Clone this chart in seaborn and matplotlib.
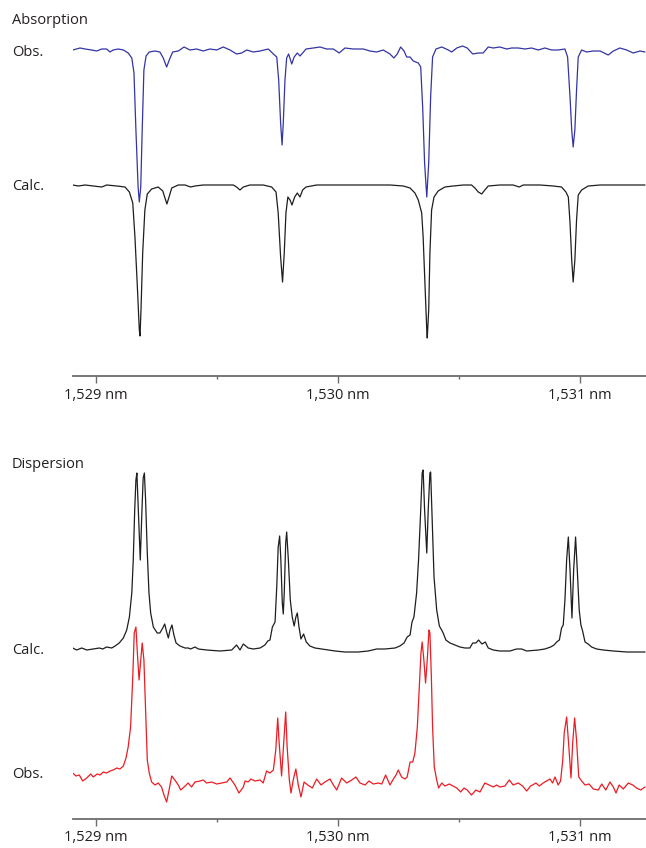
import numpy as np
import pandas as pd
import matplotlib
matplotlib.use("Agg")
import matplotlib.pyplot as plt
import seaborn as sns

# ---------------- data ----------------
# wavelength in nm, signal in arbitrary units (baseline ~ 0)
abs_obs_wl = [1528.904, 1528.934, 1528.955, 1528.982, 1529.003, 1529.024, 1529.044, 1529.058, 1529.071,
              1529.092, 1529.113, 1529.133, 1529.148, 1529.157, 1529.165, 1529.174, 1529.179, 1529.185,
              1529.191, 1529.198, 1529.207, 1529.220, 1529.244, 1529.264, 1529.278, 1529.292, 1529.306,
              1529.317, 1529.340, 1529.364, 1529.388, 1529.416, 1529.443, 1529.471, 1529.499, 1529.526,
              1529.554, 1529.581, 1529.602, 1529.623, 1529.650, 1529.678, 1529.712, 1529.733, 1529.747,
              1529.755, 1529.763, 1529.769, 1529.774, 1529.781, 1529.788, 1529.796, 1529.809, 1529.819,
              1529.832, 1529.843, 1529.854, 1529.868, 1529.898, 1529.926, 1529.953, 1529.981, 1530.005,
              1530.029, 1530.063, 1530.105, 1530.132, 1530.160, 1530.187, 1530.215, 1530.231, 1530.245,
              1530.259, 1530.273, 1530.284, 1530.298, 1530.311, 1530.332, 1530.342, 1530.350, 1530.358,
              1530.367, 1530.375, 1530.383, 1530.391, 1530.405, 1530.429, 1530.456, 1530.470, 1530.491,
              1530.515, 1530.534, 1530.557, 1530.580, 1530.600, 1530.621, 1530.642, 1530.669, 1530.697,
              1530.718, 1530.745, 1530.773, 1530.800, 1530.828, 1530.855, 1530.883, 1530.910, 1530.938,
              1530.949, 1530.959, 1530.966, 1530.972, 1530.979, 1530.986, 1530.993, 1531.007, 1531.028,
              1531.055, 1531.083, 1531.117, 1531.138, 1531.165, 1531.193, 1531.220, 1531.248, 1531.269]
abs_obs_val = [-0.01, 0.01, 0.00, -0.01, -0.02, 0.00, 0.00, -0.03, -0.01,
               0.00, -0.01, -0.04, -0.09, -0.24, -0.81, -1.38, -1.53, -1.38,
               -0.81, -0.21, -0.07, -0.03, -0.02, -0.03, -0.09, -0.18, -0.09,
               -0.03, -0.02, 0.02, -0.01, 0.00, -0.02, 0.00, -0.01, 0.02,
               -0.01, -0.05, -0.04, -0.01, -0.03, -0.02, 0.00, -0.05, -0.08,
               -0.31, -0.74, -0.96, -0.74, -0.31, -0.09, -0.05, -0.15, -0.08,
               -0.04, -0.07, -0.04, 0.00, 0.01, 0.02, 0.00, 0.00, -0.04,
               0.01, 0.00, 0.00, -0.02, -0.03, -0.01, -0.05, -0.09, -0.05,
               0.02, -0.02, -0.08, -0.08, -0.12, -0.14, -0.18, -0.58, -1.14,
               -1.48, -1.14, -0.48, -0.08, 0.00, 0.02, -0.01, -0.03, 0.01,
               0.03, 0.01, -0.05, -0.04, -0.04, 0.02, 0.01, 0.02, 0.00,
               0.01, 0.01, 0.00, 0.01, -0.01, 0.01, -0.01, -0.01, 0.00,
               -0.08, -0.48, -0.81, -0.98, -0.81, -0.41, -0.08, -0.01, -0.03,
               -0.02, -0.02, -0.06, -0.02, 0.01, -0.01, -0.04, -0.02, -0.03]

abs_calc_wl = [1528.904, 1528.927, 1528.955, 1528.989, 1529.024, 1529.044, 1529.086, 1529.120, 1529.138,
               1529.152, 1529.161, 1529.171, 1529.179, 1529.182, 1529.186, 1529.193, 1529.202, 1529.212,
               1529.230, 1529.257, 1529.276, 1529.285, 1529.293, 1529.302, 1529.313, 1529.340, 1529.368,
               1529.391, 1529.409, 1529.443, 1529.499, 1529.567, 1529.581, 1529.595, 1529.609, 1529.636,
               1529.678, 1529.691, 1529.726, 1529.744, 1529.753, 1529.763, 1529.771, 1529.778, 1529.785,
               1529.793, 1529.802, 1529.810, 1529.821, 1529.832, 1529.843, 1529.854, 1529.868, 1529.912,
               1529.967, 1530.050, 1530.132, 1530.215, 1530.270, 1530.298, 1530.318, 1530.332, 1530.346,
               1530.352, 1530.360, 1530.367, 1530.369, 1530.375, 1530.380, 1530.387, 1530.397, 1530.414,
               1530.442, 1530.476, 1530.518, 1530.552, 1530.566, 1530.580, 1530.594, 1530.607, 1530.621,
               1530.669, 1530.724, 1530.749, 1530.766, 1530.835, 1530.890, 1530.924, 1530.942, 1530.952,
               1530.959, 1530.966, 1530.972, 1530.979, 1530.986, 1530.993, 1531.007, 1531.034, 1531.083,
               1531.165, 1531.269]
abs_calc_val = [0.00, -0.01, 0.00, -0.01, -0.02, 0.00, -0.01, -0.02, -0.07,
                -0.18, -0.52, -1.02, -1.45, -1.51, -1.25, -0.68, -0.25, -0.09,
                -0.04, -0.02, -0.06, -0.13, -0.19, -0.12, -0.03, 0.00, 0.00,
                -0.02, -0.01, 0.00, 0.00, 0.00, -0.02, -0.05, -0.02, 0.00,
                0.00, 0.00, -0.02, -0.07, -0.28, -0.72, -0.97, -0.68, -0.28,
                -0.12, -0.15, -0.20, -0.12, -0.08, -0.12, -0.05, -0.02, 0.00,
                0.00, 0.00, 0.00, 0.00, -0.01, -0.03, -0.08, -0.15, -0.28,
                -0.52, -1.02, -1.45, -1.53, -1.25, -0.68, -0.25, -0.12, -0.06,
                -0.02, -0.01, 0.00, 0.00, -0.03, -0.07, -0.09, -0.05, -0.01,
                0.00, 0.00, -0.02, 0.00, 0.00, -0.01, -0.02, -0.07, -0.12,
                -0.38, -0.75, -0.97, -0.75, -0.35, -0.10, -0.05, -0.01, 0.00,
                0.00, 0.00]

disp_calc_wl = [1528.904, 1528.920, 1528.941, 1528.962, 1528.989, 1529.014, 1529.028, 1529.044, 1529.065,
                1529.079, 1529.096, 1529.113, 1529.127, 1529.138, 1529.148, 1529.154, 1529.160, 1529.165,
                1529.169, 1529.175, 1529.183, 1529.190, 1529.195, 1529.200, 1529.205, 1529.212, 1529.219,
                1529.226, 1529.237, 1529.253, 1529.264, 1529.276, 1529.284, 1529.292, 1529.299, 1529.306,
                1529.314, 1529.322, 1529.331, 1529.347, 1529.368, 1529.381, 1529.391, 1529.409, 1529.423,
                1529.457, 1529.512, 1529.561, 1529.581, 1529.595, 1529.609, 1529.629, 1529.650, 1529.678,
                1529.698, 1529.710, 1529.719, 1529.729, 1529.740, 1529.747, 1529.753, 1529.759, 1529.764,
                1529.770, 1529.774, 1529.778, 1529.784, 1529.788, 1529.795, 1529.803, 1529.811, 1529.819,
                1529.826, 1529.832, 1529.839, 1529.847, 1529.858, 1529.869, 1529.884, 1529.905, 1529.933,
                1529.960, 1529.988, 1530.029, 1530.084, 1530.125, 1530.160, 1530.194, 1530.236, 1530.256,
                1530.273, 1530.286, 1530.298, 1530.306, 1530.314, 1530.325, 1530.333, 1530.342, 1530.348,
                1530.352, 1530.358, 1530.367, 1530.373, 1530.380, 1530.383, 1530.388, 1530.397, 1530.408,
                1530.419, 1530.433, 1530.446, 1530.463, 1530.483, 1530.504, 1530.525, 1530.545, 1530.557,
                1530.570, 1530.581, 1530.595, 1530.609, 1530.621, 1530.642, 1530.669, 1530.711, 1530.738,
                1530.759, 1530.780, 1530.828, 1530.855, 1530.879, 1530.893, 1530.904, 1530.915, 1530.924,
                1530.931, 1530.938, 1530.945, 1530.952, 1530.959, 1530.967, 1530.974, 1530.982, 1530.989,
                1530.997, 1531.004, 1531.011, 1531.021, 1531.034, 1531.048, 1531.069, 1531.096, 1531.138,
                1531.193, 1531.269]
disp_calc_val = [0.02, 0.00, 0.02, 0.00, 0.01, 0.02, 0.01, 0.03, 0.02,
                 0.04, 0.07, 0.12, 0.20, 0.33, 0.57, 0.90, 1.40, 1.70,
                 1.77, 1.40, 0.90, 1.40, 1.72, 1.77, 1.50, 0.97, 0.57,
                 0.37, 0.23, 0.17, 0.17, 0.22, 0.26, 0.18, 0.12, 0.20,
                 0.25, 0.15, 0.07, 0.04, 0.02, 0.02, 0.01, 0.03, 0.01,
                 0.00, -0.01, 0.00, 0.05, 0.00, 0.06, 0.02, 0.01, 0.02,
                 0.05, 0.09, 0.10, 0.23, 0.28, 0.63, 1.03, 1.14, 0.90,
                 0.47, 0.36, 0.57, 1.07, 1.18, 0.90, 0.50, 0.33, 0.24,
                 0.33, 0.37, 0.23, 0.11, 0.16, 0.08, 0.04, 0.02, 0.01,
                 0.00, -0.01, -0.02, -0.02, -0.01, 0.01, 0.01, 0.02, 0.04,
                 0.07, 0.13, 0.15, 0.28, 0.33, 0.57, 0.90, 1.40, 1.77,
                 1.80, 1.40, 0.97, 1.40, 1.77, 1.78, 1.40, 0.73, 0.40,
                 0.24, 0.18, 0.10, 0.07, 0.05, 0.03, 0.02, 0.02, 0.07,
                 0.07, 0.10, 0.06, 0.08, 0.02, 0.00, -0.01, -0.01, 0.01,
                 0.01, -0.01, 0.00, 0.01, 0.03, 0.05, 0.08, 0.10, 0.22,
                 0.25, 0.50, 0.90, 1.13, 0.80, 0.32, 0.80, 1.13, 0.80,
                 0.40, 0.25, 0.19, 0.08, 0.06, 0.03, 0.01, 0.00, -0.01,
                 -0.02, -0.02]

disp_obs_wl = [1528.904, 1528.917, 1528.931, 1528.945, 1528.962, 1528.978, 1528.989, 1529.005, 1529.017,
               1529.030, 1529.044, 1529.058, 1529.071, 1529.086, 1529.099, 1529.113, 1529.124, 1529.133,
               1529.143, 1529.152, 1529.158, 1529.165, 1529.171, 1529.178, 1529.185, 1529.191, 1529.198,
               1529.205, 1529.212, 1529.220, 1529.230, 1529.244, 1529.257, 1529.271, 1529.281, 1529.292,
               1529.302, 1529.313, 1529.326, 1529.340, 1529.350, 1529.364, 1529.381, 1529.395, 1529.409,
               1529.430, 1529.443, 1529.457, 1529.478, 1529.499, 1529.519, 1529.540, 1529.554, 1529.574,
               1529.591, 1529.609, 1529.616, 1529.629, 1529.640, 1529.657, 1529.678, 1529.691, 1529.705,
               1529.719, 1529.733, 1529.743, 1529.751, 1529.757, 1529.767, 1529.776, 1529.784, 1529.790,
               1529.799, 1529.806, 1529.815, 1529.826, 1529.836, 1529.847, 1529.860, 1529.875, 1529.894,
               1529.912, 1529.930, 1529.946, 1529.967, 1529.981, 1529.995, 1530.015, 1530.036, 1530.057,
               1530.074, 1530.091, 1530.112, 1530.128, 1530.146, 1530.167, 1530.181, 1530.197, 1530.215,
               1530.229, 1530.240, 1530.249, 1530.263, 1530.277, 1530.286, 1530.298, 1530.309, 1530.318,
               1530.328, 1530.336, 1530.343, 1530.348, 1530.355, 1530.362, 1530.369, 1530.376, 1530.380,
               1530.386, 1530.391, 1530.398, 1530.408, 1530.416, 1530.429, 1530.442, 1530.460, 1530.476,
               1530.491, 1530.507, 1530.521, 1530.534, 1530.552, 1530.570, 1530.587, 1530.607, 1530.625,
               1530.642, 1530.656, 1530.669, 1530.690, 1530.708, 1530.724, 1530.745, 1530.763, 1530.780,
               1530.796, 1530.804, 1530.818, 1530.832, 1530.848, 1530.862, 1530.876, 1530.887, 1530.897,
               1530.910, 1530.920, 1530.929, 1530.935, 1530.945, 1530.953, 1530.963, 1530.970, 1530.978,
               1530.986, 1530.995, 1531.007, 1531.021, 1531.038, 1531.055, 1531.076, 1531.090, 1531.107,
               1531.124, 1531.138, 1531.149, 1531.162, 1531.179, 1531.200, 1531.218, 1531.234, 1531.251,
               1531.269]
disp_obs_val = [0.07, 0.04, 0.05, -0.01, 0.02, 0.06, 0.03, 0.06, 0.05,
                0.08, 0.07, 0.09, 0.10, 0.12, 0.11, 0.14, 0.22, 0.33,
                0.53, 1.03, 1.47, 1.53, 1.27, 1.00, 1.20, 1.37, 1.20,
                0.70, 0.20, 0.07, -0.02, -0.05, -0.03, -0.07, -0.15, -0.22,
                -0.10, 0.04, 0.00, -0.05, -0.10, -0.07, -0.03, -0.07, -0.02,
                -0.01, 0.00, -0.03, -0.02, -0.04, -0.03, -0.02, 0.02, -0.05,
                -0.13, -0.07, -0.01, -0.02, 0.01, -0.01, 0.00, -0.03, 0.09,
                0.07, 0.10, 0.30, 0.62, 0.37, 0.04, 0.37, 0.68, 0.33,
                0.00, -0.13, 0.00, 0.11, -0.05, -0.17, -0.02, -0.05, -0.08,
                0.01, -0.05, -0.02, 0.01, -0.05, -0.10, 0.02, -0.03, 0.00,
                0.03, -0.03, -0.05, -0.01, -0.04, -0.03, -0.04, 0.05, -0.05,
                0.01, 0.05, 0.10, 0.03, 0.01, 0.03, 0.18, 0.18, 0.27,
                0.53, 0.93, 1.27, 1.38, 1.20, 0.97, 1.20, 1.50, 1.47,
                1.03, 0.53, 0.13, 0.00, -0.08, -0.03, -0.06, -0.04, -0.06,
                -0.08, -0.12, -0.08, -0.10, -0.15, -0.10, -0.12, -0.03, -0.05,
                -0.07, -0.05, -0.07, -0.06, 0.00, -0.05, -0.03, -0.06, -0.11,
                -0.06, -0.05, -0.03, -0.06, -0.03, -0.01, 0.01, -0.03, 0.03,
                -0.05, -0.01, 0.20, 0.47, 0.63, 0.37, 0.02, 0.37, 0.62,
                0.40, 0.03, -0.01, -0.05, -0.04, -0.09, -0.10, -0.04, -0.10,
                -0.02, -0.07, -0.13, -0.05, -0.09, -0.03, -0.05, -0.08, -0.10,
                -0.07]

tick_values = [1529, 1530, 1531]
tick_labels = ["1,529 nm", "1,530 nm", "1,531 nm"]
minor_ticks = [1529.5, 1530.5]

# ---------------- style ----------------
sns.set_theme(style="white")
plt.rcParams["font.family"] = ["Open Sans", "DejaVu Sans"]
plt.rcParams["lines.solid_joinstyle"] = "round"
plt.rcParams["lines.solid_capstyle"] = "round"

W, H = 646, 848
fig = plt.figure(figsize=(W / 100, H / 100), dpi=100)

XMIN, XMAX = 1528.905, 1531.273
BLUE = "#3434a4"
BLACK = "#1e1e1e"
RED = "#ec1c24"
TXT = "#231f20"
AX = "#6d6d6d"
LW = 0.9


def px_axes(top, bottom):
    return fig.add_axes([73 / W, (H - bottom) / H, (W - 73) / W, (bottom - top) / H])


def style_axis(ax):
    for s in ["top", "right", "left"]:
        ax.spines[s].set_visible(False)
    ax.spines["bottom"].set_color(AX)
    ax.spines["bottom"].set_linewidth(1.3)
    ax.set_xlim(XMIN, XMAX)
    ax.set_xticks(tick_values)
    ax.set_xticklabels(tick_labels)
    ax.set_xticks(minor_ticks, minor=True)
    ax.tick_params(axis="x", which="major", direction="out", length=5, width=1.0,
                   color=AX, labelsize=10.5, labelcolor=TXT, pad=3.5, bottom=True)
    ax.tick_params(axis="x", which="minor", direction="out", length=2.5, width=1.0,
                   color=AX, bottom=True)
    ax.set_yticks([])
    ax.set_xlabel("")
    ax.set_ylabel("")
    ax.grid(False)
    ax.patch.set_alpha(0)


# ---------------- absorption panel ----------------
ax1 = px_axes(30, 376)
abs_calc_offset = -1.36
df_ao = pd.DataFrame({"wl": abs_obs_wl, "v": abs_obs_val})
df_ac = pd.DataFrame({"wl": abs_calc_wl, "v": np.array(abs_calc_val) + abs_calc_offset})
sns.lineplot(data=df_ac, x="wl", y="v", ax=ax1, color=BLACK, linewidth=LW,
             estimator=None, sort=False)
sns.lineplot(data=df_ao, x="wl", y="v", ax=ax1, color=BLUE, linewidth=LW,
             estimator=None, sort=False)
ax1.set_ylim(-3.27, 0.19)
style_axis(ax1)

# ---------------- dispersion panel ----------------
ax2 = px_axes(460, 818.5)
disp_obs_offset = -1.30
df_dc = pd.DataFrame({"wl": disp_calc_wl, "v": disp_calc_val})
df_do = pd.DataFrame({"wl": disp_obs_wl, "v": np.array(disp_obs_val) + disp_obs_offset})
sns.lineplot(data=df_dc, x="wl", y="v", ax=ax2, color=BLACK, linewidth=LW,
             estimator=None, sort=False)
sns.lineplot(data=df_do, x="wl", y="v", ax=ax2, color=RED, linewidth=LW,
             estimator=None, sort=False)
ax2.set_ylim(-1.685, 1.90)
style_axis(ax2)

# ---------------- labels ----------------
def label(px_y, s):
    fig.text(12 / W, 1 - px_y / H, s, ha="left", va="center", fontsize=10.5, color=TXT)

label(20, "Absorption")
label(52, "Obs.")
label(187, "Calc.")
label(465, "Dispersion")
label(651, "Calc.")
label(775, "Obs.")

fig.savefig("out.png", dpi=100)
